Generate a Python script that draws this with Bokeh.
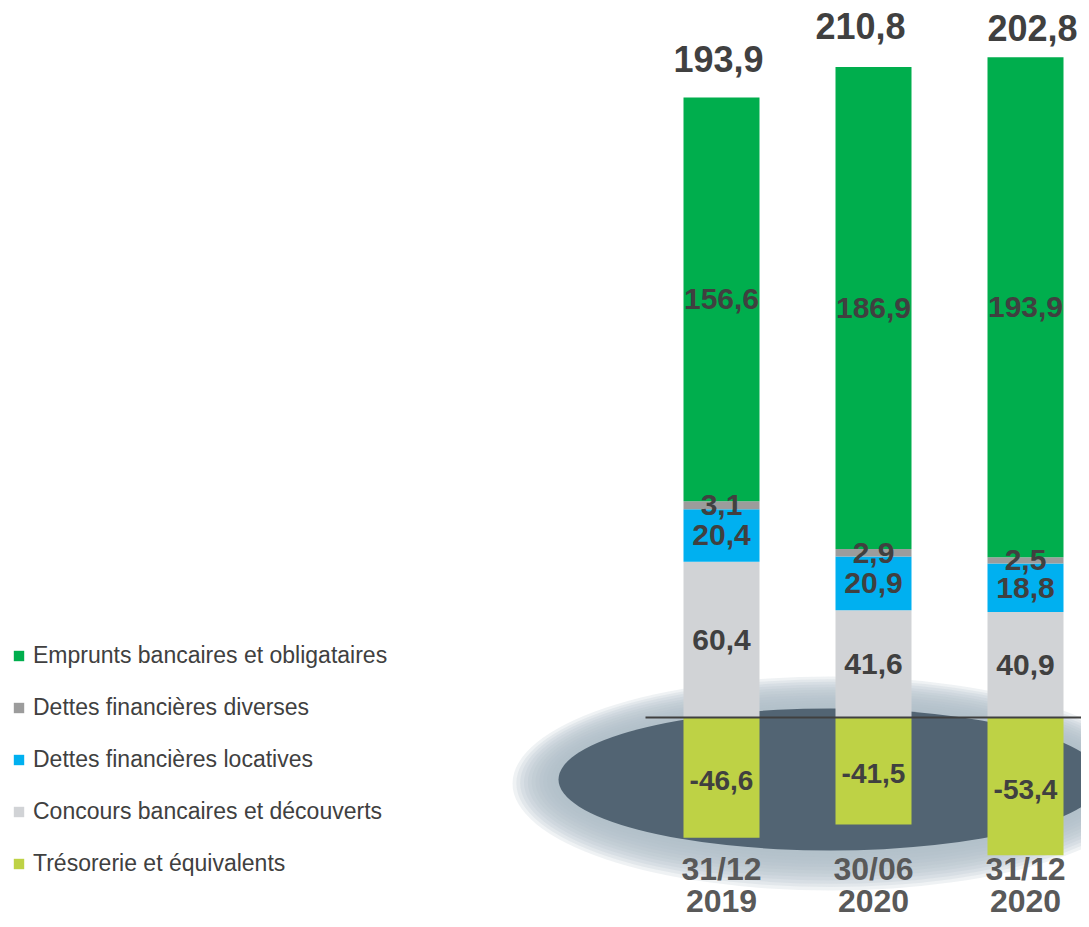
from bokeh.plotting import figure
from bokeh.models import ColumnDataSource, Range1d, Legend, LegendItem
from bokeh.core.properties import value
from bokeh.embed import file_html
from bokeh.resources import INLINE

# ---- data ----
categories = ["31/12 2019", "30/06 2020", "31/12 2020"]
emprunts = [156.6, 186.9, 193.9]
dettes_diverses = [3.1, 2.9, 2.5]
dettes_locatives = [20.4, 20.9, 18.8]
concours = [60.4, 41.6, 40.9]
tresorerie = [-46.6, -41.5, -53.4]
totals = ["193,9", "210,8", "202,8"]

series_names = ["Emprunts bancaires et obligataires", "Dettes financières diverses",
                "Dettes financières locatives", "Concours bancaires et découverts",
                "Trésorerie et équivalents"]
colors = {"emp": "#00AE4D", "div": "#9C9C9C", "loc": "#00B0F0", "con": "#D1D3D6", "tre": "#BED245"}

# label styling offsets (pixels) for the totals
total_dx = [-3, -13, 7]
total_dy = [-38, -41, -29]

def fmt(v):
    return ("%.1f" % v).replace(".", ",")

x = list(range(len(categories)))
W, H = 1081, 919
px_per_x = 152.0
px_per_y = 2.578
x0_px = 721.0
zero_px = 717.0
xr = Range1d(-x0_px / px_per_x, (W - x0_px) / px_per_x)
yr = Range1d(-(H - zero_px) / px_per_y, zero_px / px_per_y)

p = figure(width=W, height=H, x_range=xr, y_range=yr, output_backend="svg",
           toolbar_location=None, min_border=0, outline_line_color=None)
p.axis.visible = False
p.grid.visible = False
p.background_fill_color = "white"

# decorative ellipse with soft halo
ecx = (830 - x0_px) / px_per_x
ecy = (zero_px - 779) / px_per_y
ew = 544 / px_per_x
eh = 142 / px_per_y
n = 12
for i in range(n, 0, -1):
    f = i / n
    p.ellipse(x=[ecx], y=[ecy - 4 * f / px_per_y], width=[ew + 2 * 46 * f / px_per_x],
              height=[eh + 2 * 36 * f / px_per_y],
              fill_color="#AEBDC8", fill_alpha=0.2, line_color=None)
p.ellipse(x=[ecx], y=[ecy], width=[ew], height=[eh], fill_color="#526473", line_color=None)

src = ColumnDataSource(dict(x=x, con=concours, loc=dettes_locatives, div=dettes_diverses,
                            emp=emprunts, tre=tresorerie))
keys = ["con", "loc", "div", "emp"]
rs = p.vbar_stack(keys, x="x", width=0.5, source=src,
                  color=[colors[k] for k in keys], line_color=None)
rneg = p.vbar(x="x", top="tre", bottom=0, width=0.5, source=src, color=colors["tre"], line_color=None)

# zero line
p.segment(x0=[-0.5], y0=[0], x1=[xr.end], y1=[0], line_color="#404040", line_width=2)

# segment labels
lx, ly, lt = [], [], []
for i in x:
    base = 0.0
    for arr in [concours, dettes_locatives, dettes_diverses, emprunts]:
        lx.append(i); ly.append(base + arr[i] / 2); lt.append(fmt(arr[i]))
        base += arr[i]
p.text(x=lx, y=ly, text=lt, text_font=value("Liberation Sans"), text_font_style="bold",
       text_font_size="30px", text_color="#404040", text_align="center", text_baseline="middle")
p.text(x=x, y=[v / 2 for v in tresorerie], text=[fmt(v) for v in tresorerie], y_offset=3,
       text_font=value("Liberation Sans"), text_font_style="bold",
       text_font_size="28px", text_color="#404040", text_align="center", text_baseline="middle")

# totals
tops = [concours[i] + dettes_locatives[i] + dettes_diverses[i] + emprunts[i] for i in x]
p.text(x=x, y=tops, text=totals, x_offset=total_dx, y_offset=total_dy,
       text_font=value("Liberation Sans"), text_font_style="bold",
       text_font_size="36px", text_color="#404040", text_align="center", text_baseline="middle")

# category labels
cat_top = [c.split(" ")[0] for c in categories]
cat_bot = [c.split(" ")[1] for c in categories]
ybot = [yr.start] * len(x)
p.text(x=x, y=ybot, text=cat_top, y_offset=-51, text_font=value("Liberation Sans"), text_font_style="bold",
       text_font_size="32px", text_color="#595959", text_align="center", text_baseline="middle")
p.text(x=x, y=ybot, text=cat_bot, y_offset=-19, text_font=value("Liberation Sans"), text_font_style="bold",
       text_font_size="32px", text_color="#595959", text_align="center", text_baseline="middle")

# legend
items = [LegendItem(label=series_names[0], renderers=[rs[3]]),
         LegendItem(label=series_names[1], renderers=[rs[2]]),
         LegendItem(label=series_names[2], renderers=[rs[1]]),
         LegendItem(label=series_names[3], renderers=[rs[0]]),
         LegendItem(label=series_names[4], renderers=[rneg])]
legend = Legend(items=items, location=(12, 42), glyph_width=13, glyph_height=13,
                label_text_font="Liberation Sans", label_text_font_size="23px",
                label_text_color="#404040", label_standoff=8, spacing=25, label_height=20,
                padding=0, margin=0, border_line_color=None, background_fill_alpha=0)
p.add_layout(legend, "center")

open("out.html", "w").write(file_html(p, INLINE))
